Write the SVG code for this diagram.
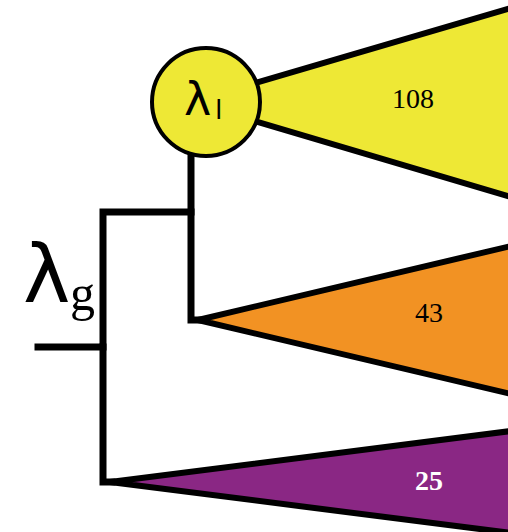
<svg xmlns="http://www.w3.org/2000/svg" width="508" height="532" viewBox="0 0 508 532">
<style>
.tri{stroke:#000;stroke-width:6;stroke-linejoin:miter}
.br{fill:none;stroke:#000;stroke-width:7;stroke-linecap:square;stroke-linejoin:miter}
.num{font-family:"Liberation Serif",serif;font-size:28px;text-anchor:middle}
</style>
<rect width="508" height="532" fill="#fff"/>
<g id="connectors">
<path class="br" d="M38 347H103V212H191"/>
<path class="br" d="M103 347V482H112"/>
<path class="br" d="M191 150V320H198"/>
</g>
<g id="clade108">
<polygon class="tri" points="190,102 511,8 511,197" fill="#EEE835"/>
<text class="num" x="413" y="108">108</text>
</g>
<g id="clade43">
<polygon class="tri" points="198,320 511,246 511,394" fill="#F29223"/>
<text class="num" x="429" y="322">43</text>
</g>
<g id="clade25">
<polygon class="tri" points="110,482 511,431 511,533" fill="#8A2784"/>
<text class="num" x="429" y="490" fill="#fff" font-weight="bold">25</text>
</g>
<g id="lambda-l">
<circle cx="206" cy="102" r="54" fill="#EEE835" stroke="#000" stroke-width="4"/>
<text x="184" y="115" font-family="DejaVu Sans,sans-serif" font-size="46">λ</text>
<text x="215" y="119" font-family="DejaVu Sans,sans-serif" font-size="27">l</text>
</g>
<g id="lambda-g">
<text x="23" y="302" font-family="DejaVu Sans,sans-serif" font-size="80">λ</text>
<text x="70" y="310" font-family="Liberation Serif,serif" font-size="50">g</text>
</g>
</svg>
